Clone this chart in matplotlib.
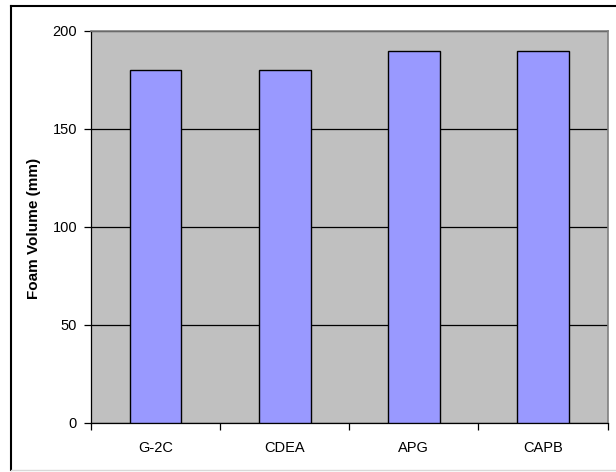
import matplotlib
matplotlib.use("Agg")
import matplotlib.pyplot as plt
from matplotlib.lines import Line2D
import numpy as np

surfactants = ["G-2C", "CDEA", "APG", "CAPB"]
foam_volume = [180, 180, 190, 190]
y_ticks = [0, 50, 100, 150, 200]

plt.rcParams['font.family'] = ['Liberation Sans', 'DejaVu Sans']

fig = plt.figure(figsize=(6.16, 4.72), dpi=100)
ax = fig.add_axes([91 / 616, 49 / 472, 516.5 / 616, 392 / 472])
ax.set_facecolor('#C0C0C0')

x = np.arange(len(surfactants))
ax.bar(x, foam_volume, width=0.4, color='#9999FF', edgecolor='black',
       linewidth=1.0, zorder=3)

ax.set_xlim(-0.5, len(surfactants) - 0.5)
ax.set_ylim(0, 200)
ax.set_yticks(y_ticks)
ax.set_yticklabels([str(v) for v in y_ticks], fontsize=10.5)
ax.yaxis.grid(True, color='black', linewidth=0.9, zorder=1)
ax.set_axisbelow(True)

# category labels sit between the boundary ticks
ax.set_xticks(x)
ax.set_xticklabels(surfactants, fontsize=10.5)
ax.tick_params(axis='x', length=0, pad=13)
ax.set_xticks(np.arange(len(surfactants) + 1) - 0.5, minor=True)
ax.tick_params(axis='x', which='minor', length=5, width=0.9, direction='out')
ax.tick_params(axis='y', length=5, width=0.9, direction='out', pad=5)

for side in ['left', 'bottom']:
    ax.spines[side].set_color('black')
    ax.spines[side].set_linewidth(0.9)
for side in ['top', 'right']:
    ax.spines[side].set_color('#808080')
    ax.spines[side].set_linewidth(1.2)

fig.text(34 / 616, (472 - 228.5) / 472, "Foam Volume (mm)", rotation=90,
         ha='center', va='center', fontsize=11, fontweight='bold')

# chart frame
fig.add_artist(Line2D([10.5 / 616, 10.5 / 616], [2 / 472, (472 - 6) / 472],
                      color='black', linewidth=1.5))
fig.add_artist(Line2D([10.5 / 616, 1.0], [(472 - 6) / 472, (472 - 6) / 472],
                      color='black', linewidth=1.5))
fig.add_artist(Line2D([10.5 / 616, 1.0], [2 / 472, 2 / 472],
                      color='#D8D8D8', linewidth=1.0))

fig.savefig("out.png", dpi=100)
